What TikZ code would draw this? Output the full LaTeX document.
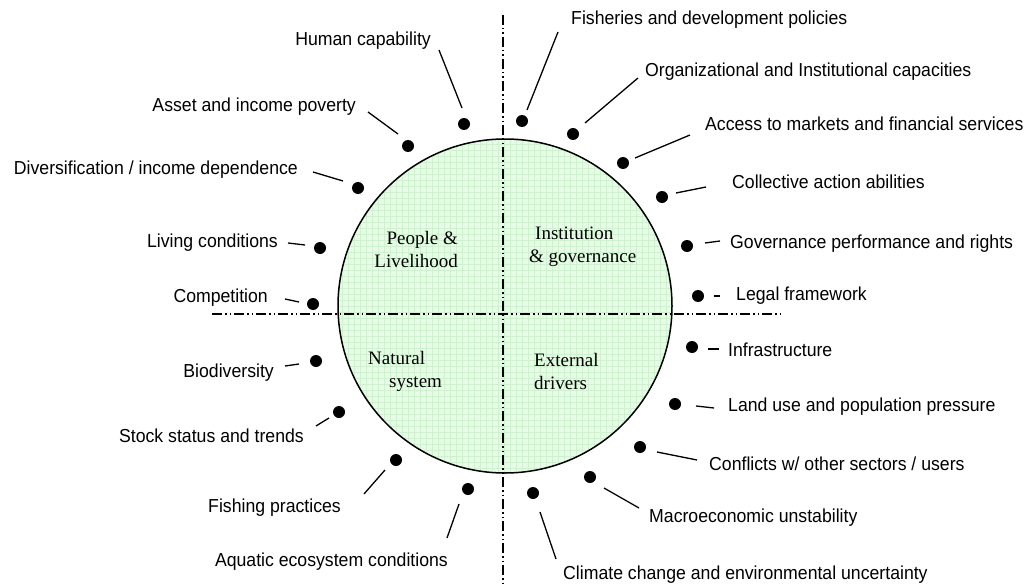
\documentclass[tikz,border=0pt]{standalone}
\usepackage{fontspec}
\setmainfont{Liberation Serif}
\newfontfamily\labelfont{Liberation Sans}[FakeStretch=0.94]
\usepackage{tikz}
\definecolor{paleleaf}{RGB}{232, 251, 232}
\definecolor{leafgrid}{RGB}{206, 242, 206}

\begin{document}
\begin{tikzpicture}[x=1pt, y=-1pt,
  dot/.style={circle, fill=black, inner sep=0pt, minimum size=12pt},
  leader/.style={line width=1.3pt},
  axis/.style={line width=1.2pt, dash pattern=on 10pt off 3pt on 1.5pt off 3pt on 1.5pt off 3pt},
  item/.style={font=\labelfont\fontsize{18.8}{22}\selectfont, inner sep=0pt},
  quarter/.style={font=\fontsize{19}{23}\selectfont, inner sep=0pt}]
  \fill[white] (0, 0) rectangle (1031, 586);
  \useasboundingbox (0, 0) rectangle (1031, 586);
  \coordinate (c) at (505, 306);
  \begin{scope}
    \clip (c) circle[radius=167pt];
    \fill[paleleaf] (c) circle[radius=167pt];
    \draw[leafgrid, line width=0.6pt, step=6pt] (330, 130) grid (690, 480);
  \end{scope}
  \draw[line width=1.5pt] (c) circle[radius=167pt];

  \coordinate (vtop) at (503, 15);
  \coordinate (vbottom) at (503, 586);
  \coordinate (hleft) at (212, 314);
  \coordinate (hright) at (780, 314);
  \draw[axis] (vtop) -- (vbottom);
  \draw[axis] (hleft) -- (hright);

  \node[quarter, align=right, anchor=base east] (people) at (458, 267) {People \&\\Livelihood};
  \node[quarter, align=left, anchor=base west] (institution) at (529, 262) {\hspace*{6pt}Institution\\\& governance};
  \node[quarter, align=left, anchor=base west] (natural) at (368, 387) {Natural\\\hspace*{21pt}system};
  \node[quarter, align=left, anchor=base west] (external) at (534, 389) {External\\drivers};

  \foreach \name/\dx/\dy/\ax/\ay/\bx/\by/\tx/\ty/\side/\txt in {
    human/464/124/462/108/439/50/431/46/east/Human capability,
    asset/408/146/398/134/368/112/356/111/east/Asset and income poverty,
    divers/358/188/343/181/313/172/298/174/east/{Diversification / income dependence},
    living/320/248/305/245/288/243/278/247/east/Living conditions,
    compet/313/304/299/302/285/299/268/302/east/Competition,
    biodiv/316/361/299/364/285/366/274/377/east/Biodiversity,
    stock/339/412/329/418/316/426/304/442/east/Stock status and trends,
    fishing/396/460/385/470/364/494/341/512/east/Fishing practices,
    aquatic/468/489/459/504/447/538/448/566/east/Aquatic ecosystem conditions,
    policies/522/121/527/110/558/32/571/25/west/Fisheries and development policies,
    capacity/573/134/585/123/638/78/645/77/west/Organizational and Institutional capacities,
    markets/623/163/635/158/690/135/705/130/west/Access to markets and financial services,
    collective/662/197/676/193/706/187/732/188/west/Collective action abilities,
    governance/687/246/705/243/720/241/730/248/west/Governance performance and rights,
    legal/698/296/714/296/720/296/736/300/west/Legal framework,
    infra/692/347/708/349/719/349/728/356/west/Infrastructure,
    landuse/675/404/696/406/714/408/728/411/west/Land use and population pressure,
    conflicts/640/447/657/452/697/460/709/470/west/{Conflicts w/ other sectors / users},
    macro/590/477/604/488/639/508/649/522/west/Macroeconomic unstability,
    climate/533/493/540/512/556/559/563/579/west/Climate change and environmental uncertainty} {
    \node[dot] (\name-dot) at (\dx, \dy) {};
    \coordinate (\name-a) at (\ax, \ay);
    \coordinate (\name-b) at (\bx, \by);
    \draw[leader] (\name-a) -- (\name-b);
    \node[item, anchor=base \side] (\name) at (\tx, \ty) {\txt};
  }
\end{tikzpicture}
\end{document}
